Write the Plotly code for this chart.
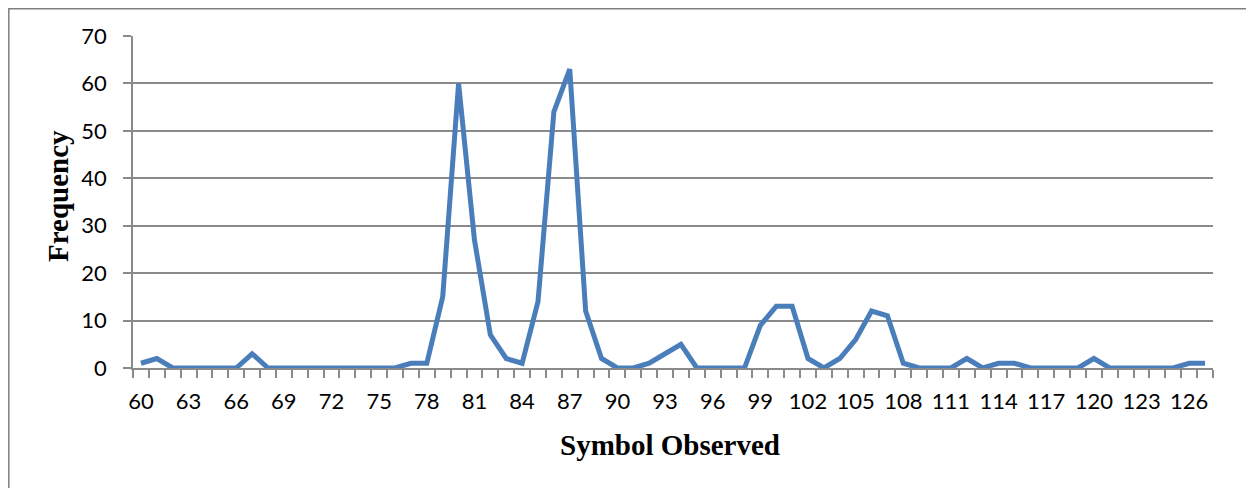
import plotly.graph_objects as go

symbols = [60, 61, 62, 63, 64, 65, 66, 67, 68, 69, 70, 71, 72, 73, 74, 75, 76, 77, 78, 79,
           80, 81, 82, 83, 84, 85, 86, 87, 88, 89, 90, 91, 92, 93, 94, 95, 96, 97, 98, 99,
           100, 101, 102, 103, 104, 105, 106, 107, 108, 109, 110, 111, 112, 113, 114, 115,
           116, 117, 118, 119, 120, 121, 122, 123, 124, 125, 126, 127]
frequency = [1, 2, 0, 0, 0, 0, 0, 3, 0, 0, 0, 0, 0, 0, 0, 0, 0, 1, 1, 15,
             60, 27, 7, 2, 1, 14, 54, 63, 12, 2, 0, 0, 1, 3, 5, 0, 0, 0, 0, 9,
             13, 13, 2, 0, 2, 6, 12, 11, 1, 0, 0, 0, 2, 0, 1, 1,
             0, 0, 0, 0, 2, 0, 0, 0, 0, 0, 1, 1]
x_ticks = [60, 63, 66, 69, 72, 75, 78, 81, 84, 87, 90, 93, 96, 99, 102, 105, 108, 111,
           114, 117, 120, 123, 126]
y_ticks = [0, 10, 20, 30, 40, 50, 60, 70]

grid = "#8a8a8a"
tickfont = dict(family="Lato, Open Sans, sans-serif", size=22, color="#000000")
titlefont = dict(family="Liberation Serif, Times New Roman, serif", size=29, color="#000000")

fig = go.Figure()
fig.add_trace(go.Scatter(x=symbols, y=frequency, mode="lines",
                         line=dict(color="#4a7ebb", width=5),
                         showlegend=False, hoverinfo="x+y"))

fig.update_layout(
    width=1246, height=480,
    margin=dict(l=125, r=41, t=28, b=120),
    paper_bgcolor="#ffffff", plot_bgcolor="#ffffff",
    xaxis=dict(range=[59.5, 127.5], tickvals=x_ticks, ticktext=[str(v) for v in x_ticks],
               ticks="", showgrid=False, zeroline=False,
               showline=True, linecolor=grid, linewidth=1.8,
               tickfont=tickfont, ticklabelstandoff=13,
               minor=dict(ticks="outside", tick0=59.5, dtick=1, ticklen=8,
                          tickcolor=grid, tickwidth=1.8, showgrid=False)),
    yaxis=dict(range=[0, 70], tickvals=y_ticks, ticks="outside", ticklen=8,
               tickcolor=grid, tickwidth=1.8,
               showgrid=True, gridcolor=grid, gridwidth=1.8, zeroline=False,
               showline=True, linecolor=grid, linewidth=1.8,
               tickfont=tickfont, ticklabelstandoff=12),
    shapes=[dict(type="rect", xref="paper", yref="paper",
                 x0=-0.1150, x1=1.0361, y0=-0.45, y1=1.0821,
                 line=dict(color="#7f7f7f", width=1.5), fillcolor="rgba(0,0,0,0)",
                 layer="below")],
    annotations=[
        dict(text="<b>Symbol Observed</b>", xref="paper", yref="paper",
             x=(670 - 133) / 1080, y=(368 - 445) / 332, showarrow=False,
             font=titlefont, xanchor="center", yanchor="middle"),
        dict(text="<b>Frequency</b>", xref="paper", yref="paper",
             x=(58 - 133) / 1080, y=(368 - 196) / 332, showarrow=False,
             font=titlefont, textangle=-90, xanchor="center", yanchor="middle"),
    ],
)

fig.write_html("out.html")
